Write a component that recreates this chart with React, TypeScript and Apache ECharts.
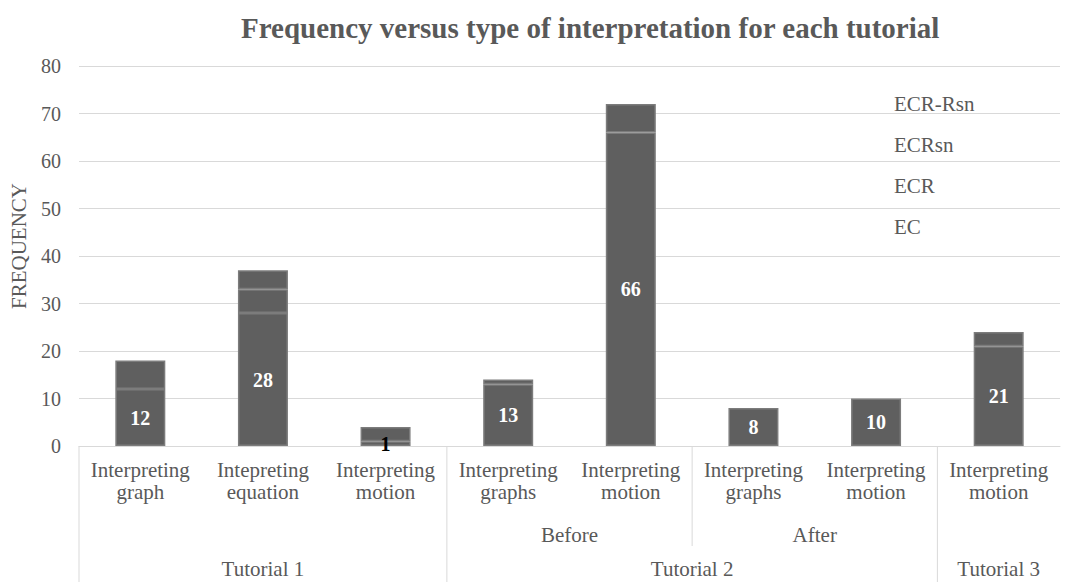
import React, { useEffect, useRef } from "react";
import * as echarts from "echarts";

const categories = [
  "Interpreting\ngraph",
  "Intepreting\nequation",
  "Interpreting\nmotion",
  "Interpreting\ngraphs",
  "Interpreting\nmotion",
  "Interpreting\ngraphs",
  "Interpreting\nmotion",
  "Interpreting\nmotion",
];
const ecValues = [12, 28, 1, 13, 66, 8, 10, 21];
const ecrValues = [6, 5, 3, 1, 6, 0, 0, 3];
const ecrsnValues = [0, 4, 0, 0, 0, 0, 0, 0];
const ecrRsnValues = [0, 0, 0, 0, 0, 0, 0, 0];
const seriesNames = ["EC", "ECR", "ECRsn", "ECR-Rsn"];
const legendOrder = ["ECR-Rsn", "ECRsn", "ECR", "EC"];
// group levels: [label, firstIndex, lastIndex]
const level2Groups: [string, number, number][] = [
  ["Before", 3, 4],
  ["After", 5, 6],
];
const level3Groups: [string, number, number][] = [
  ["Tutorial 1", 0, 2],
  ["Tutorial 2", 3, 6],
  ["Tutorial 3", 7, 7],
];
const yMin = 0;
const yMax = 80;
const yInterval = 10;

const FONT = "Times New Roman, Liberation Serif, serif";
const TEXT = "#595959";
const BAR = "#5f5f5f";
const LINE = "#d9d9d9";

export default function App() {
  const ref = useRef<HTMLDivElement>(null);
  useEffect(() => {
    document.body.style.margin = "0";
    if (!ref.current) return;
    const chart = echarts.init(ref.current, undefined, { renderer: "svg" });
    const allSeries = [ecValues, ecrValues, ecrsnValues, ecrRsnValues];
    const series = allSeries.map((vals, si) => ({
      name: seriesNames[si],
      type: "bar",
      stack: "total",
      barWidth: 50,
      data: vals.map((v) => {
        const item: any = { value: v === 0 ? null : v };
        if (si === 0 && v < 3) {
          item.label = { color: "#000000" };
        }
        return item;
      }),
      itemStyle: {
        color: BAR,
        borderColor: "#7c7c7c",
        borderWidth: 1.5,
      },
      label:
        si === 0
          ? {
              show: true,
              position: "inside",
              color: "#ffffff",
              fontFamily: FONT,
              fontWeight: "bold",
              fontSize: 20,
            }
          : { show: false },
    }));
    chart.setOption({
      animation: false,
      backgroundColor: "#ffffff",
      textStyle: { fontFamily: FONT },
      title: {
        text: "Frequency versus type of interpretation for each tutorial",
        left: 236,
        top: 8,
        textStyle: { fontFamily: FONT, fontWeight: "bold", fontSize: 29, color: TEXT },
      },
      legend: {
        data: legendOrder,
        orient: "vertical",
        left: 883,
        top: 88,
        itemWidth: 0,
        itemHeight: 0,
        itemGap: 19,
        icon: "rect",
        itemStyle: { opacity: 0 },
        textStyle: { fontFamily: FONT, fontSize: 21, color: TEXT, lineHeight: 22 },
      },
      grid: { left: 78, right: 16, top: 66, bottom: 136, containLabel: false },
      xAxis: {
        type: "category",
        data: categories,
        axisLine: { show: true, lineStyle: { color: LINE } },
        axisTick: { show: false },
        axisLabel: {
          fontFamily: FONT,
          fontSize: 21,
          color: TEXT,
          lineHeight: 22,
          margin: 13,
          interval: 0,
        },
      },
      yAxis: {
        type: "value",
        min: yMin,
        max: yMax,
        interval: yInterval,
        name: "FREQUENCY",
        nameLocation: "middle",
        nameGap: 50,
        nameTextStyle: { fontFamily: FONT, fontSize: 21, color: TEXT, padding: [0, 0, 0, 20] },
        axisLine: { show: false },
        axisTick: { show: false },
        splitLine: { lineStyle: { color: LINE, width: 1 } },
        axisLabel: { fontFamily: FONT, fontSize: 20, color: TEXT, margin: 18 },
      },
      series,
    });

    const cx = (i: number) => chart.convertToPixel({ xAxisIndex: 0 }, i) as number;
    const band = cx(1) - cx(0);
    const edge = (i: number) => cx(i) - band / 2;
    const y0 = chart.convertToPixel({ yAxisIndex: 0 }, 0) as number;
    const bottom = 582;
    const lineStyle = { stroke: LINE, lineWidth: 1 };
    const graphics: any[] = [];
    graphics.push({ type: "line", shape: { x1: edge(0), y1: y0, x2: edge(0), y2: bottom }, style: lineStyle });
    level3Groups.forEach(([, , last], gi) => {
      if (gi < level3Groups.length - 1) {
        const x = edge(last + 1);
        graphics.push({ type: "line", shape: { x1: x, y1: y0, x2: x, y2: bottom }, style: lineStyle });
      }
    });
    level2Groups.forEach(([, , last], gi) => {
      if (gi < level2Groups.length - 1) {
        const x = edge(last + 1);
        graphics.push({ type: "line", shape: { x1: x, y1: y0, x2: x, y2: y0 + 100 }, style: lineStyle });
      }
    });
    const label = (text: string, x: number, y: number) => ({
      type: "text",
      x,
      y,
      style: {
        text,
        fill: TEXT,
        fontFamily: FONT,
        fontSize: 21,
        align: "center",
        verticalAlign: "middle",
      },
    });
    level2Groups.forEach(([t, a, b]) => graphics.push(label(t, (edge(a) + edge(b + 1)) / 2, y0 + 89)));
    level3Groups.forEach(([t, a, b]) => graphics.push(label(t, (edge(a) + edge(b + 1)) / 2, y0 + 123)));
    chart.setOption({ graphic: graphics });

    return () => chart.dispose();
  }, []);
  return <div ref={ref} style={{ width: 1076, height: 582 }} />;
}
